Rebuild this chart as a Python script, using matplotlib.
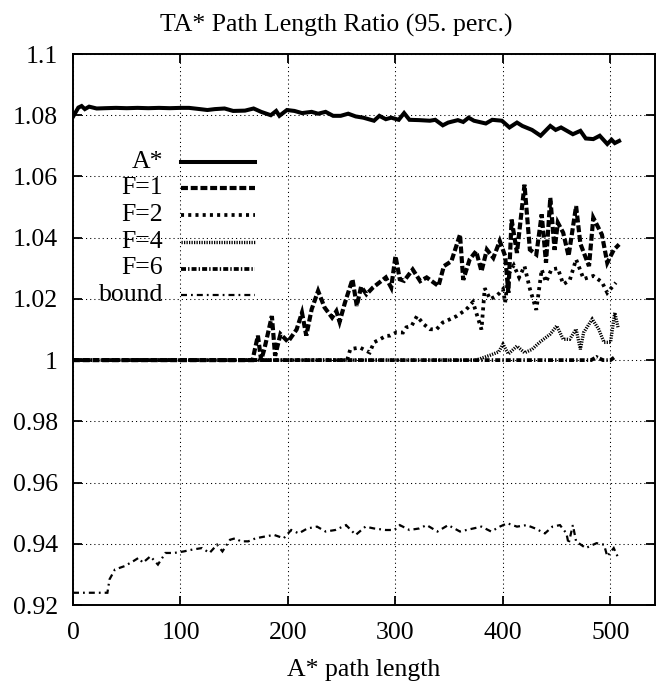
import matplotlib
matplotlib.use("Agg")
import matplotlib.pyplot as plt
from matplotlib.lines import Line2D

plt.rcParams['font.family'] = ['Liberation Serif', 'DejaVu Serif']
plt.rcParams['lines.scale_dashes'] = False

title = "TA* Path Length Ratio (95. perc.)"
xlabel = "A* path length"

astar_x = [0, 5, 8, 11, 15, 22, 30, 40, 50, 60, 70, 80, 90, 100, 108, 118, 125, 132, 141, 149,
           160, 168, 175, 184, 189, 192, 199, 206, 213, 222, 228, 235, 242, 249, 256, 263, 270,
           280, 285, 291, 296, 303, 308, 313, 322, 332, 337, 344, 349, 358, 363, 368, 373, 384,
           390, 399, 406, 413, 418, 427, 435, 444, 449, 454, 465, 472, 477, 484, 490, 497, 501,
           504, 508]
astar_y = [1.0795, 1.0825, 1.0830, 1.0820, 1.0828, 1.0822, 1.0823, 1.0824, 1.0823, 1.0824,
           1.0823, 1.0824, 1.0823, 1.0824, 1.0824, 1.0820, 1.0817, 1.0820, 1.0822, 1.0814,
           1.0815, 1.0822, 1.0811, 1.0800, 1.0814, 1.0798, 1.0817, 1.0814, 1.0807, 1.0811,
           1.0805, 1.0811, 1.0798, 1.0798, 1.0805, 1.0796, 1.0792, 1.0782, 1.0798, 1.0787,
           1.0792, 1.0785, 1.0807, 1.0785, 1.0784, 1.0782, 1.0785, 1.0767, 1.0776, 1.0784,
           1.0778, 1.0792, 1.0782, 1.0773, 1.0785, 1.0782, 1.0760, 1.0776, 1.0765, 1.0752,
           1.0733, 1.0765, 1.0752, 1.0760, 1.0738, 1.0749, 1.0724, 1.0722, 1.0733, 1.0706,
           1.0720, 1.0709, 1.0716]

f1_x = [0, 167, 172, 175, 178, 185, 188, 193, 200, 208, 213, 217, 222, 228, 234, 241, 245, 248,
        253, 260, 264, 268, 273, 279, 287, 291, 296, 300, 304, 308, 316, 323, 329, 340, 345, 352,
        360, 363, 369, 375, 380, 385, 391, 397, 402, 405, 408, 413, 420, 425, 431, 436, 440, 444,
        448, 451, 456, 461, 468, 472, 480, 484, 492, 497, 503, 508]
f1_y = [1.0, 1.0, 1.008, 1.0, 1.0036, 1.0144, 1.0014, 1.0085, 1.006, 1.010, 1.0155, 1.008,
        1.0166, 1.0226, 1.0172, 1.0139, 1.016, 1.0125, 1.0188, 1.0264, 1.0177, 1.024, 1.0215,
        1.0237, 1.0259, 1.027, 1.0237, 1.034, 1.0264, 1.0259, 1.0296, 1.0258, 1.027, 1.0242,
        1.0307, 1.0323, 1.041, 1.0262, 1.0329, 1.0356, 1.029, 1.0361, 1.0334, 1.0389, 1.034,
        1.022, 1.0459, 1.035, 1.0573, 1.0361, 1.0345, 1.0476, 1.0318, 1.053, 1.036, 1.0449,
        1.0416, 1.034, 1.0503, 1.038, 1.0307, 1.0465, 1.041, 1.0318, 1.036, 1.0378]

f2_x = [0, 255, 258, 267, 273, 276, 280, 286, 291, 295, 301, 307, 310, 315, 320, 326, 332, 338,
        344, 351, 357, 366, 372, 380, 383, 388, 394, 397, 400, 402, 405, 410, 415, 420, 425, 431,
        436, 440, 445, 451, 456, 462, 468, 475, 484, 492, 497, 505]
f2_y = [1.0, 1.0, 1.0036, 1.0041, 1.003, 1.0025, 1.0058, 1.0069, 1.0079, 1.008, 1.0091, 1.009,
        1.0107, 1.0112, 1.0144, 1.0118, 1.0101, 1.010, 1.0123, 1.0134, 1.0144, 1.0166, 1.019,
        1.010, 1.0235, 1.0199, 1.021, 1.022, 1.0232, 1.0188, 1.028, 1.031, 1.027, 1.0307, 1.0233,
        1.0164, 1.0296, 1.0255, 1.0296, 1.030, 1.0248, 1.026, 1.0329, 1.0265, 1.0275, 1.0255,
        1.022, 1.0253]

f4_x = [0, 375, 388, 396, 400, 405, 413, 420, 427, 434, 444, 450, 456, 462, 468, 472, 475, 483,
        489, 494, 500, 504, 507]
f4_y = [1.0, 1.0, 1.0016, 1.0027, 1.0052, 1.002, 1.0046, 1.0024, 1.0035, 1.0058, 1.0085, 1.0112,
        1.0068, 1.0068, 1.0101, 1.0035, 1.009, 1.0134, 1.0101, 1.0058, 1.0058, 1.0155, 1.0107]

f6_x = [0, 482, 487, 493, 500, 504]
f6_y = [1.0, 1.0, 1.001, 1.0, 1.0, 1.001]

bound_x = [0, 32, 34, 39, 48, 56, 61, 65, 72, 79, 86, 94, 103, 111, 120, 127, 134, 139, 146, 151,
           156, 163, 170, 179, 187, 196, 203, 210, 218, 227, 235, 244, 254, 263, 272, 280, 291,
           299, 304, 313, 322, 329, 339, 349, 360, 366, 380, 389, 397, 404, 413, 422, 430, 439,
           446, 453, 459, 461, 465, 468, 477, 487, 494, 497, 503, 508]
bound_y = [0.924, 0.924, 0.9284, 0.9316, 0.9327, 0.9343, 0.9354, 0.9338, 0.9359, 0.9332, 0.937,
           0.937, 0.9375, 0.9381, 0.9386, 0.937, 0.9397, 0.9375, 0.9413, 0.9418, 0.9408, 0.9408,
           0.9418, 0.9424, 0.9429, 0.9418, 0.9445, 0.9434, 0.945, 0.9456, 0.944, 0.9445, 0.9461,
           0.9429, 0.9456, 0.945, 0.9445, 0.9445, 0.9461, 0.9445, 0.945, 0.9461, 0.944, 0.9461,
           0.944, 0.9445, 0.9456, 0.944, 0.9456, 0.9467, 0.9456, 0.9461, 0.945, 0.9434, 0.9456,
           0.9461, 0.9434, 0.940, 0.9461, 0.9408, 0.9386, 0.9402, 0.9397, 0.9359, 0.9386, 0.9348]

labels = ["A*", "F=1", "F=2", "F=4", "F=6", "bound"]
xs = [astar_x, f1_x, f2_x, f4_x, f6_x, bound_x]
ys = [astar_y, f1_y, f2_y, f4_y, f6_y, bound_y]
widths = [2.9, 3.0, 2.7, 2.4, 2.7, 1.6]
styles = ['-', (0, (5.0, 2.0)), (0, (2.2, 3.0)), (0, (0.9, 0.9)),
          (0, (3.6, 1.5, 1.0, 1.5)), (0, (4.3, 2.9, 1.3, 2.9))]

xticks = [0, 100, 200, 300, 400, 500]
yticks = [0.92, 0.94, 0.96, 0.98, 1.0, 1.02, 1.04, 1.06, 1.08, 1.1]
yticklabels = ["0.92", "0.94", "0.96", "0.98", "1", "1.02", "1.04", "1.06", "1.08", "1.1"]

FS = 18.5

fig = plt.figure(figsize=(6.57, 6.89), dpi=100)
ax = fig.add_axes([73/657, 84/689, 582/657, 551/689])

for x, y, lw, ls in zip(xs, ys, widths, styles):
    ax.plot(x, y, color='black', lw=lw, linestyle=ls,
            dash_joinstyle='miter', solid_joinstyle='miter', dash_capstyle='butt')

ax.set_xlim(0, 541.4)
ax.set_ylim(0.92, 1.1)
ax.set_xticks(xticks)
ax.set_yticks(yticks)
ax.set_yticklabels(yticklabels)
ax.tick_params(direction='in', length=6.5, width=1.3, top=True, right=True,
               labelsize=FS)
ax.tick_params(axis='y', pad=11)
ax.tick_params(axis='x', pad=12)
ax.grid(True, color='black', linestyle=(0, (0.8, 2.2)), linewidth=0.75)
for s in ax.spines.values():
    s.set_linewidth(1.4)

ax.set_xlabel(xlabel, fontsize=FS, labelpad=11)
fig.text(336/657, 1 - 25/689, title, ha='center', va='center', fontsize=FS)

# legend (manual, right-aligned labels like gnuplot)
ly0 = (605 - 161.7) / 551
dly = 26.7 / 551
for i, (lab, lw, ls) in enumerate(zip(labels, widths, styles)):
    yy = ly0 - i * dly
    ax.text(0.1546, yy, lab, transform=ax.transAxes, ha='right', va='center',
            fontsize=FS)
    ax.add_line(Line2D([0.1856, 0.3127], [yy, yy], transform=ax.transAxes,
                       color='black', lw=lw, linestyle=ls, dash_capstyle='butt'))

fig.savefig("out.png", dpi=100)
